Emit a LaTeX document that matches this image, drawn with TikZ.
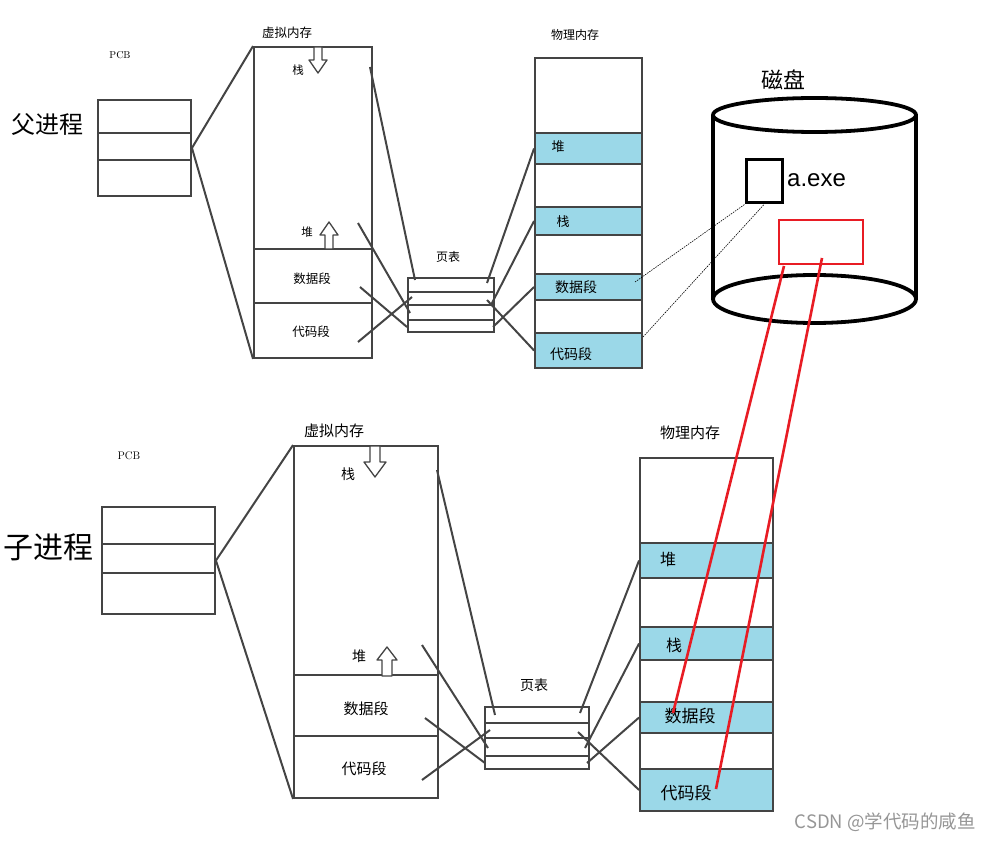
\documentclass[tikz,border=0pt]{standalone}
\usepackage{fontspec}
\newfontfamily\cjk{Noto Sans CJK SC}
\setsansfont{Liberation Sans}

\definecolor{pencil}{RGB}{68,68,68}
\definecolor{bandblue}{RGB}{155,216,232}
\definecolor{diskred}{RGB}{232,28,36}
\definecolor{wmgray}{RGB}{150,150,150}

\begin{document}
\begin{tikzpicture}[x=1pt, y=-1pt,
    box/.style={draw=pencil, line width=1.9pt, inner sep=0pt},
    band/.style={box, fill=bandblue},
    txt/.style={inner sep=0pt, font=\cjk\fontsize{#1pt}{#1pt}\selectfont},
    map/.style={draw=pencil, line width=2pt},
    hollow/.style={draw=pencil, line width=1.3pt, fill=white, line join=round},
    dotline/.style={line width=0.6pt, dash pattern=on 1.5pt off 1pt},
    redline/.style={draw=diskred, line width=2.6pt}]
        \useasboundingbox (0,0) rectangle (990,842);

        % Parent process: PCB
        \node[txt=24] (fatherLbl) at (48,125) {父进程};
        \node[inner sep=0pt, font=\fontsize{10pt}{10pt}\selectfont] (pcbPLbl) at (120,55) {PCB};
        \node[box, minimum width=93pt, minimum height=96pt] (pcbP) at (144.5,148) {};
        \draw[map] (98,133) -- (191,133) (98,160) -- (191,160);

        % Parent process: virtual memory
        \node[txt=12.5] (vmPLbl) at (287,33) {虚拟内存};
        \node[box, minimum width=118pt, minimum height=311pt] (vmP) at (313,202.5) {};
        \draw[map] (254,249) -- (372,249) (254,303) -- (372,303);
        \draw[hollow] (314,47) -- (314,60) -- (309,60) -- (318,73) -- (327,60) -- (322,60) -- (322,47) -- cycle;
        \draw[hollow] (325,249) -- (325,235) -- (320,235) -- (329,222) -- (338,235) -- (333,235) -- (333,249) -- cycle;
        \node[txt=11.5] (vsP) at (298,70) {栈};
        \node[txt=11.5] (vhP) at (307,232) {堆};
        \node[txt=12.5] (vdP) at (312,279) {数据段};
        \node[txt=12.5] (vcP) at (311,332) {代码段};
        \draw[map] (pcbP.east) -- (vmP.north west);
        \draw[map] (pcbP.east) -- (vmP.south west);

        % Parent process: page table
        \node[txt=12] (ptPLbl) at (448,257) {页表};
        \node[box, minimum width=86pt, minimum height=54pt] (ptP) at (451,305) {};
        \draw[map] (408,292) -- (494,292) (408,305) -- (494,305) (408,320) -- (494,320);

        % Parent process: physical memory
        \node[txt=12] (memPLbl) at (575,35) {物理内存};
        \node[box, minimum width=107pt, minimum height=310pt] (memP) at (588.5,213) {};
        \node[band, minimum width=107pt, minimum height=31pt] (heapP) at (588.5,148.5) {};
        \node[band, minimum width=107pt, minimum height=28pt] (stackP) at (588.5,221) {};
        \node[band, minimum width=107pt, minimum height=26pt] (dataP) at (588.5,287) {};
        \node[band, minimum width=107pt, minimum height=35pt] (codeP) at (588.5,350.5) {};
        \node[txt=13] (heapPLbl) at (558,147) {堆};
        \node[txt=13] (stackPLbl) at (563,222) {栈};
        \node[txt=14] (dataPLbl) at (576,287) {数据段};
        \node[txt=14] (codePLbl) at (571,354) {代码段};

        % Parent process: mapping lines
        \coordinate (vP1) at (370,67);  \coordinate (tP1) at (415,280);
        \coordinate (vP2) at (358,223); \coordinate (tP2) at (410,313);
        \coordinate (vP3) at (360,287); \coordinate (tP3) at (407,327);
        \coordinate (vP4) at (358,342); \coordinate (tP4) at (412,297);
        \coordinate (uP1) at (487,283); \coordinate (uP2) at (491,305);
        \coordinate (uP3) at (493,327); \coordinate (uP4) at (487,300);
        \draw[map] (vP1) -- (tP1);
        \draw[map] (vP2) -- (tP2);
        \draw[map] (vP3) -- (tP3);
        \draw[map] (vP4) -- (tP4);
        \draw[map] (uP1) -- (heapP.west);
        \draw[map] (uP2) -- (stackP.west);
        \draw[map] (uP3) -- (dataP.west);
        \draw[map] (uP4) -- (codeP.west);

        % Child process: PCB
        \node[txt=30] (childLbl) at (48,547) {子进程};
        \node[inner sep=0pt, font=\fontsize{11pt}{11pt}\selectfont] (pcbCLbl) at (129,456) {PCB};
        \node[box, minimum width=113pt, minimum height=107pt] (pcbC) at (158.5,560.5) {};
        \draw[map] (102,544) -- (215,544) (102,573) -- (215,573);

        % Child process: virtual memory
        \node[txt=15] (vmCLbl) at (334,431) {虚拟内存};
        \node[box, minimum width=144pt, minimum height=352pt] (vmC) at (366,622) {};
        \draw[map] (294,675) -- (438,675) (294,736) -- (438,736);
        \draw[hollow] (370,446) -- (370,462) -- (364,462) -- (375,477) -- (386,462) -- (380,462) -- (380,446) -- cycle;
        \draw[hollow] (382,676) -- (382,660) -- (377,660) -- (387,647) -- (397,660) -- (392,660) -- (392,676) -- cycle;
        \node[txt=14] (vsC) at (348,474) {栈};
        \node[txt=14] (vhC) at (359,656) {堆};
        \node[txt=15] (vdC) at (366,709) {数据段};
        \node[txt=15] (vcC) at (364,769) {代码段};
        \draw[map] (pcbC.east) -- (vmC.north west);
        \draw[map] (pcbC.east) -- (vmC.south west);

        % Child process: page table
        \node[txt=14] (ptCLbl) at (534,685) {页表};
        \node[box, minimum width=104pt, minimum height=62pt] (ptC) at (537,738) {};
        \draw[map] (485,723) -- (589,723) (485,738) -- (589,738) (485,756) -- (589,756);

        % Child process: physical memory
        \node[txt=15] (memCLbl) at (690,433) {物理内存};
        \node[box, minimum width=133pt, minimum height=353pt] (memC) at (706.5,634.5) {};
        \node[band, minimum width=133pt, minimum height=35pt] (heapC) at (706.5,560.5) {};
        \node[band, minimum width=133pt, minimum height=33pt] (stackC) at (706.5,643.5) {};
        \node[band, minimum width=133pt, minimum height=31pt] (dataC) at (706.5,717.5) {};
        \node[band, minimum width=133pt, minimum height=42pt] (codeC) at (706.5,790) {};
        \node[txt=16] (heapCLbl) at (668,559) {堆};
        \node[txt=16] (stackCLbl) at (674,645) {栈};
        \node[txt=17] (dataCLbl) at (690,716) {数据段};
        \node[txt=17] (codeCLbl) at (686,793) {代码段};

        % Child process: mapping lines
        \coordinate (vC1) at (437,470); \coordinate (tC1) at (495,715);
        \coordinate (vC2) at (422,645); \coordinate (tC2) at (488,748);
        \coordinate (vC3) at (425,718); \coordinate (tC3) at (485,763);
        \coordinate (vC4) at (422,780); \coordinate (tC4) at (490,730);
        \coordinate (uC1) at (580,713); \coordinate (uC2) at (585,748);
        \coordinate (uC3) at (587,763); \coordinate (uC4) at (578,732);
        \draw[map] (vC1) -- (tC1);
        \draw[map] (vC2) -- (tC2);
        \draw[map] (vC3) -- (tC3);
        \draw[map] (vC4) -- (tC4);
        \draw[map] (uC1) -- (heapC.west);
        \draw[map] (uC2) -- (stackC.west);
        \draw[map] (uC3) -- (dataC.west);
        \draw[map] (uC4) -- (codeC.west);

        % Disk
        \node[txt=22] (diskLbl) at (783,80) {磁盘};
        \draw[line width=3.8pt] (713,115) -- (713,298) (916,115) -- (916,298);
        \draw[line width=3.8pt] (814.5,115) ellipse [x radius=101.5pt, y radius=17pt];
        \draw[line width=3.8pt] (814.5,299) ellipse [x radius=101.5pt, y radius=24pt];
        \node[draw, line width=3pt, minimum width=36pt, minimum height=43pt, inner sep=0pt] (exe) at (764,181.5) {};
        \node[anchor=west, inner sep=0pt, font=\sffamily\fontsize{24pt}{24pt}\selectfont] (exeLbl) at (787,180) {a.exe};
        \node[draw=diskred, line width=2.8pt, minimum width=84pt, minimum height=44pt, inner sep=0pt] (sect) at (821,242) {};

        % Disk to memory
        \coordinate (dP) at (635,282); \coordinate (cP) at (643,337);
        \draw[dotline] (dP) -- (exe.south west);
        \draw[dotline] (cP) -- (exe.south);
        \coordinate (r1) at (784,266); \coordinate (r2) at (822,258);
        \coordinate (rd) at (673,713); \coordinate (rc) at (716,789);
        \draw[redline] (r1) -- (rd);
        \draw[redline] (r2) -- (rc);

        % Watermark
        \node[anchor=east, inner sep=0pt, text=wmgray, font=\cjk\fontsize{18.5pt}{18.5pt}\selectfont] (mark) at (976,822) {CSDN @学代码的咸鱼};
\end{tikzpicture}
\end{document}
